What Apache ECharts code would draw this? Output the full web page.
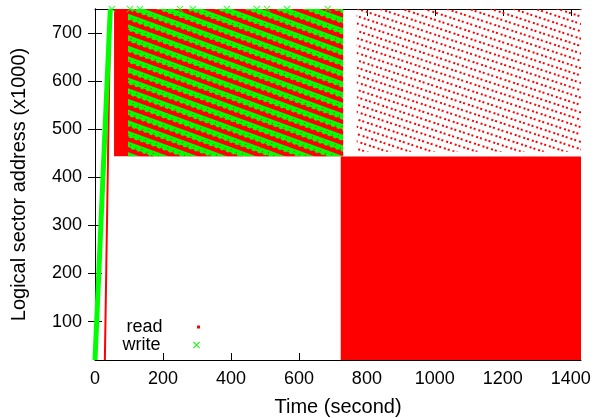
<!DOCTYPE html>
<html>
<head>
<meta charset="utf-8">
<script src="https://cdn.jsdelivr.net/npm/echarts@6/dist/echarts.min.js"></script>
<style>
html, body { margin: 0; padding: 0; background: #fff; }
#chart { width: 595px; height: 418px; }
</style>
</head>
<body>
<div id="chart"></div>
<script>
// tick labels
var xTicks = [0, 200, 400, 600, 800, 1000, 1200, 1400];
var yTicks = [100, 200, 300, 400, 500, 600, 700];

// write trace: [time (s), address (x1000)]
var writeBand = [[0, 20], [45, 750]];
var writeTop = [50, 103, 132, 250, 288, 388, 476, 506, 565, 685];   // x marks on the 750 edge
var writeHatch = [[97, 730, 444, 750]];                               // [t0, t1, a0, a1]

// read trace
var readLine = [[29, 20], [45, 750]];
var readBlocks = [[56, 730, 444, 750], [723, 1430, 20, 443]];        // [t0, t1, a0, a1]
var readSparse = [[770, 1430, 453, 750]];

var RED = '#ff0000', GREEN = '#00ff00';
var FONT = 'Liberation Sans';
var crossPath = 'path://M0,1L1,0L5,4L9,0L10,1L6,5L10,9L9,10L5,6L1,10L0,9L4,5Z';
var dotPath = 'path://M0,0L10,0L10,10L0,10Z';

// fill textures for the dense regions (diagonal bands of points)
function makeTile(w, h, bg, color, rects) {
  var c = document.createElement('canvas');
  c.width = w; c.height = h;
  var ctx = c.getContext('2d');
  if (bg) { ctx.fillStyle = bg; ctx.fillRect(0, 0, w, h); }
  ctx.fillStyle = color;
  rects.forEach(function (r) { ctx.fillRect(r[0], r[1], r[2], r[3]); });
  return c;
}
var dotFill = {
  image: makeTile(9, 7, null, RED, [[0, 0, 2, 2], [4, 0, 2, 2]]),
  repeat: 'repeat', rotation: 0.32
};
// green band with broken rows of red between
var hatchFill = {
  image: makeTile(12, 10, GREEN, RED, [
    [0, 5, 3, 4], [3, 4, 3, 5], [6, 5, 3, 4], [9, 4, 3, 5],
    [4, 1, 1, 1], [10, 2, 1, 1]
  ]),
  repeat: 'repeat', rotation: 0.35
};

function rectRenderer(fill) {
  return function (params, api) {
    var p0 = api.coord([api.value(0), api.value(3)]);
    var p1 = api.coord([api.value(1), api.value(2)]);
    return {
      type: 'rect',
      shape: { x: p0[0], y: p0[1], width: p1[0] - p0[0], height: p1[1] - p0[1] },
      style: fill ? { fill: fill } : api.style()
    };
  };
}

var chart = echarts.init(document.getElementById('chart'));

var option = {
  animation: false,
  textStyle: { fontFamily: FONT },
  grid: { left: 95, right: 14, top: 9, bottom: 58, outerBoundsMode: 'none' },
  legend: [
    {
      right: 395, top: 318, padding: 0, align: 'right',
      itemWidth: 62, itemHeight: 3,
      textStyle: { fontSize: 18, fontFamily: FONT, color: '#000', lineHeight: 18 },
      data: [{ name: 'read', icon: dotPath, itemStyle: { color: RED } }]
    },
    {
      right: 395, top: 336, padding: 0, align: 'right',
      itemWidth: 62, itemHeight: 7,
      textStyle: { fontSize: 18, fontFamily: FONT, color: '#000', lineHeight: 18 },
      data: [{ name: 'write', icon: crossPath, itemStyle: { color: GREEN } }]
    }
  ],
  xAxis: [
    {
      type: 'value', min: 0, max: 1430, position: 'bottom',
      name: 'Time (second)', nameLocation: 'middle', nameGap: 37,
      nameTextStyle: { fontSize: 20, fontFamily: FONT, color: '#000' },
      axisLine: { lineStyle: { color: '#000', width: 1 } },
      axisTick: { inside: true, length: 7, customValues: xTicks, lineStyle: { color: '#000' } },
      axisLabel: {
        customValues: xTicks, fontSize: 18, color: '#000', margin: 10,
        formatter: function (v) { return String(v); }
      },
      splitLine: { show: false }
    },
    {
      type: 'value', min: 0, max: 1430, position: 'top',
      axisLine: { lineStyle: { color: '#000', width: 1 } },
      axisTick: { inside: true, length: 7, customValues: xTicks, lineStyle: { color: '#000' } },
      axisLabel: { show: false },
      splitLine: { show: false }
    }
  ],
  yAxis: [
    {
      type: 'value', min: 20, max: 750, position: 'left',
      name: 'Logical sector address (x1000)', nameLocation: 'middle', nameGap: 66,
      nameTextStyle: { fontSize: 20, fontFamily: FONT, color: '#000' },
      axisLine: { show: true, lineStyle: { color: '#000', width: 1 } },
      axisTick: { show: true, inside: true, length: 7, customValues: yTicks, lineStyle: { color: '#000' } },
      axisLabel: { customValues: yTicks, fontSize: 18, color: '#000', margin: 13 },
      splitLine: { show: false }
    },
    {
      type: 'value', min: 20, max: 750, position: 'right',
      axisLine: { show: true, lineStyle: { color: '#000', width: 1 } },
      axisTick: { show: true, inside: true, length: 7, customValues: yTicks, lineStyle: { color: '#000' } },
      axisLabel: { show: false },
      splitLine: { show: false }
    }
  ],
  series: [
    {
      name: 'read', type: 'custom', renderItem: rectRenderer(null), clip: true,
      itemStyle: { color: RED },
      data: readBlocks
    },
    {
      name: 'read', type: 'custom', renderItem: rectRenderer(dotFill), clip: true,
      itemStyle: { color: RED },
      data: readSparse
    },
    {
      name: 'read', type: 'line', showSymbol: false, clip: true,
      lineStyle: { color: RED, width: 2 }, itemStyle: { color: RED },
      data: readLine
    },
    {
      name: 'write', type: 'custom', renderItem: rectRenderer(hatchFill), clip: true,
      itemStyle: { color: GREEN },
      data: writeHatch
    },
    {
      name: 'write', type: 'line', showSymbol: false, clip: true,
      lineStyle: { color: GREEN, width: 5 }, itemStyle: { color: GREEN },
      data: writeBand
    },
    {
      name: 'write', type: 'scatter', symbol: crossPath, symbolSize: 7,
      itemStyle: { color: GREEN },
      data: writeTop.map(function (t) { return [t, 750]; })
    }
  ]
};

chart.setOption(option);
</script>
</body>
</html>
